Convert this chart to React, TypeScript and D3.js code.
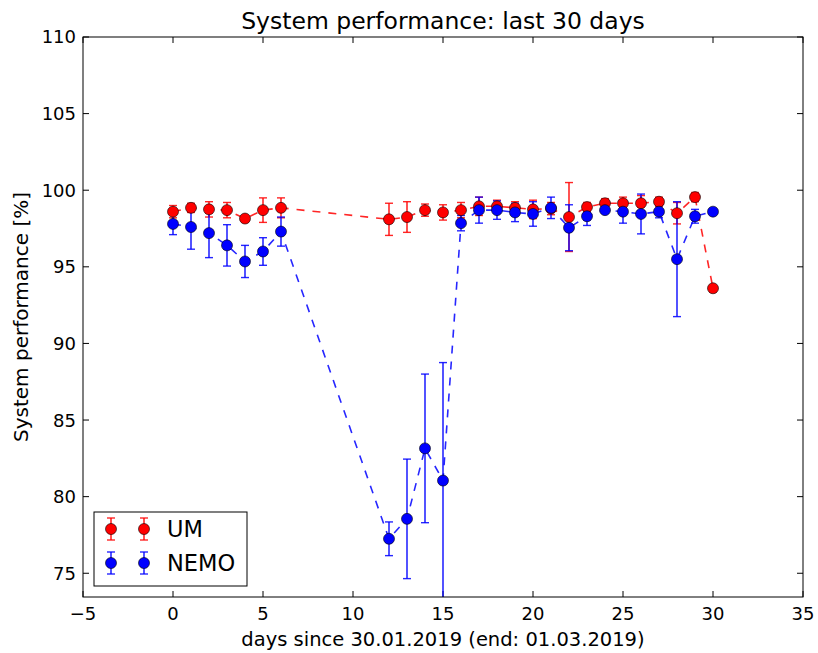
import { useRef, useEffect } from 'react'
import * as d3 from 'd3'

// day index since 30.01.2019 (days 7..11 missing)
const days = [0, 1, 2, 3, 4, 5, 6, 12, 13, 14, 15, 16, 17, 18, 19, 20, 21, 22, 23, 24, 25, 26, 27, 28, 29, 30]

const umValues = [98.6, 98.85, 98.75, 98.7, 98.15, 98.7, 98.85, 98.1, 98.25, 98.7, 98.55, 98.7, 98.95, 98.95, 98.85, 98.75, 98.8, 98.25, 98.9, 99.15, 99.15, 99.15, 99.25, 98.5, 99.55, 93.6]
const umErrors = [0.4, 0.3, 0.5, 0.5, 0.2, 0.8, 0.65, 1.05, 1.0, 0.4, 0.5, 0.5, 0.6, 0.4, 0.4, 0.6, 0.4, 2.25, 0.3, 0.3, 0.4, 0.5, 0.3, 0.7, 0.3, 0]

const nemoValues = [97.8, 97.6, 97.2, 96.4, 95.35, 96.0, 97.3, 77.25, 78.55, 83.15, 81.05, 97.85, 98.7, 98.7, 98.55, 98.45, 98.85, 97.55, 98.3, 98.7, 98.6, 98.45, 98.6, 95.5, 98.3, 98.6]
const nemoErrors = [0.7, 1.45, 1.6, 1.35, 1.05, 0.9, 0.95, 1.1, 3.9, 4.85, 7.7, 0.5, 0.85, 0.6, 0.6, 0.8, 0.7, 1.5, 0.6, 0.2, 0.75, 1.3, 0.4, 3.75, 0.45, 0]

const xTicks = [-5, 0, 5, 10, 15, 20, 25, 30, 35]
const yTicks = [75, 80, 85, 90, 95, 100, 105, 110]

const seriesNames = ['UM', 'NEMO']
const seriesColors = ['#ff0000', '#0000ff']

export default function App() {
	const ref = useRef<SVGSVGElement>(null)

	const width = 818
	const height = 653
	const margin = { top: 37, right: 15, bottom: 56, left: 83 }
	const innerW = width - margin.left - margin.right
	const innerH = height - margin.top - margin.bottom

	useEffect(() => {
		const svg = d3.select(ref.current)
		svg.selectAll('*').remove()
		const font = 'DejaVu Sans'

		const x = d3.scaleLinear().domain([-5, 35]).range([0, innerW])
		const y = d3.scaleLinear().domain([73.45, 110]).range([innerH, 0])

		svg.append('rect').attr('width', width).attr('height', height).attr('fill', '#fff')

		const g = svg.append('g').attr('transform', `translate(${margin.left},${margin.top})`)

		// clip for data
		svg
			.append('defs')
			.append('clipPath')
			.attr('id', 'plotclip')
			.append('rect')
			.attr('width', innerW)
			.attr('height', innerH)

		const fmt = (d: number) => (d < 0 ? '\u2212' + Math.abs(d) : String(d))

		// ticks (inside, all four sides)
		const tl = 6
		xTicks.forEach((t) => {
			g.append('line').attr('x1', x(t)).attr('x2', x(t)).attr('y1', innerH).attr('y2', innerH - tl).attr('stroke', '#000')
			g.append('line').attr('x1', x(t)).attr('x2', x(t)).attr('y1', 0).attr('y2', tl).attr('stroke', '#000')
			g.append('text')
				.attr('x', x(t))
				.attr('y', innerH + 23)
				.attr('text-anchor', 'middle')
				.attr('font-family', font)
				.attr('font-size', 18)
				.text(fmt(t))
		})
		yTicks.forEach((t) => {
			g.append('line').attr('x1', 0).attr('x2', tl).attr('y1', y(t)).attr('y2', y(t)).attr('stroke', '#000')
			g.append('line').attr('x1', innerW).attr('x2', innerW - tl).attr('y1', y(t)).attr('y2', y(t)).attr('stroke', '#000')
			g.append('text')
				.attr('x', -7)
				.attr('y', y(t))
				.attr('dy', '0.36em')
				.attr('text-anchor', 'end')
				.attr('font-family', font)
				.attr('font-size', 18)
				.text(fmt(t))
		})

		const plot = g.append('g').attr('clip-path', 'url(#plotclip)')

		const line = d3
			.line<number>()
			.x((d, i) => x(days[i]))
			.y((d) => y(d))

		const all = [
			{ values: umValues, errors: umErrors },
			{ values: nemoValues, errors: nemoErrors },
		]

		all.forEach((s, k) => {
			const color = seriesColors[k]
			const sg = plot.append('g')
			sg.append('path')
				.datum(s.values)
				.attr('d', line)
				.attr('fill', 'none')
				.attr('stroke', color)
				.attr('stroke-opacity', 0.85)
				.attr('stroke-width', 1.6)
				.attr('stroke-dasharray', '8,8')
			s.values.forEach((v, i) => {
				const e = s.errors[i]
				if (e <= 0) return
				const cx = x(days[i])
				sg.append('line').attr('x1', cx).attr('x2', cx).attr('y1', y(v - e)).attr('y2', y(v + e)).attr('stroke', color).attr('stroke-width', 1.6).attr('stroke-opacity', 0.85)
				;[v - e, v + e].forEach((c) => {
					sg.append('line').attr('x1', cx - 4).attr('x2', cx + 4).attr('y1', y(c)).attr('y2', y(c)).attr('stroke', color).attr('stroke-width', 1.4).attr('stroke-opacity', 0.85)
				})
			})
		})
		all.forEach((s, k) => {
			plot.append('g')
				.selectAll('circle')
				.data(s.values)
				.join('circle')
				.attr('cx', (d, i) => x(days[i]))
				.attr('cy', (d) => y(d))
				.attr('r', 5.5)
				.attr('fill', seriesColors[k])
				.attr('stroke', '#000')
				.attr('stroke-width', 0.6)
		})

		// frame
		g.append('rect').attr('width', innerW).attr('height', innerH).attr('fill', 'none').attr('stroke', '#000').attr('stroke-width', 1)

		// legend
		const lg = g.append('g').attr('transform', `translate(${94 - margin.left},${512 - margin.top})`)
		lg.append('rect').attr('width', 153).attr('height', 74).attr('fill', '#fff').attr('stroke', '#000').attr('stroke-width', 1)
		seriesNames.forEach((name, k) => {
			const ly = 17 + k * 34
			;[17, 50].forEach((lx) => {
				lg.append('line').attr('x1', lx).attr('x2', lx).attr('y1', ly - 11).attr('y2', ly + 11).attr('stroke', seriesColors[k]).attr('stroke-width', 1.6).attr('stroke-opacity', 0.85)
				;[ly - 11, ly + 11].forEach((cy) => {
					lg.append('line').attr('x1', lx - 4).attr('x2', lx + 4).attr('y1', cy).attr('y2', cy).attr('stroke', seriesColors[k]).attr('stroke-width', 1.4).attr('stroke-opacity', 0.85)
				})
				lg.append('circle').attr('cx', lx).attr('cy', ly).attr('r', 5.5).attr('fill', seriesColors[k]).attr('stroke', '#000').attr('stroke-width', 0.6)
			})
			lg.append('text')
				.attr('x', 73)
				.attr('y', ly)
				.attr('dy', '0.36em')
				.attr('font-family', font)
				.attr('font-size', 22.5)
				.text(name)
		})

		// labels
		svg.append('text')
			.attr('x', margin.left + innerW / 2)
			.attr('y', 29)
			.attr('text-anchor', 'middle')
			.attr('font-family', font)
			.attr('font-size', 23.5)
			.text('System performance: last 30 days')
		svg.append('text')
			.attr('x', margin.left + innerW / 2)
			.attr('y', 646)
			.attr('text-anchor', 'middle')
			.attr('font-family', font)
			.attr('font-size', 19.5)
			.text('days since 30.01.2019 (end: 01.03.2019)')
		svg.append('text')
			.attr('transform', `translate(28,${margin.top + innerH / 2}) rotate(-90)`)
			.attr('text-anchor', 'middle')
			.attr('font-family', font)
			.attr('font-size', 20)
			.text('System performance [%]')
	}, [])

	return (
		<svg
			ref={ref}
			width={width}
			height={height}
			style={{ position: 'absolute', left: 0, top: 0, display: 'block' }}
		></svg>
	)
}
